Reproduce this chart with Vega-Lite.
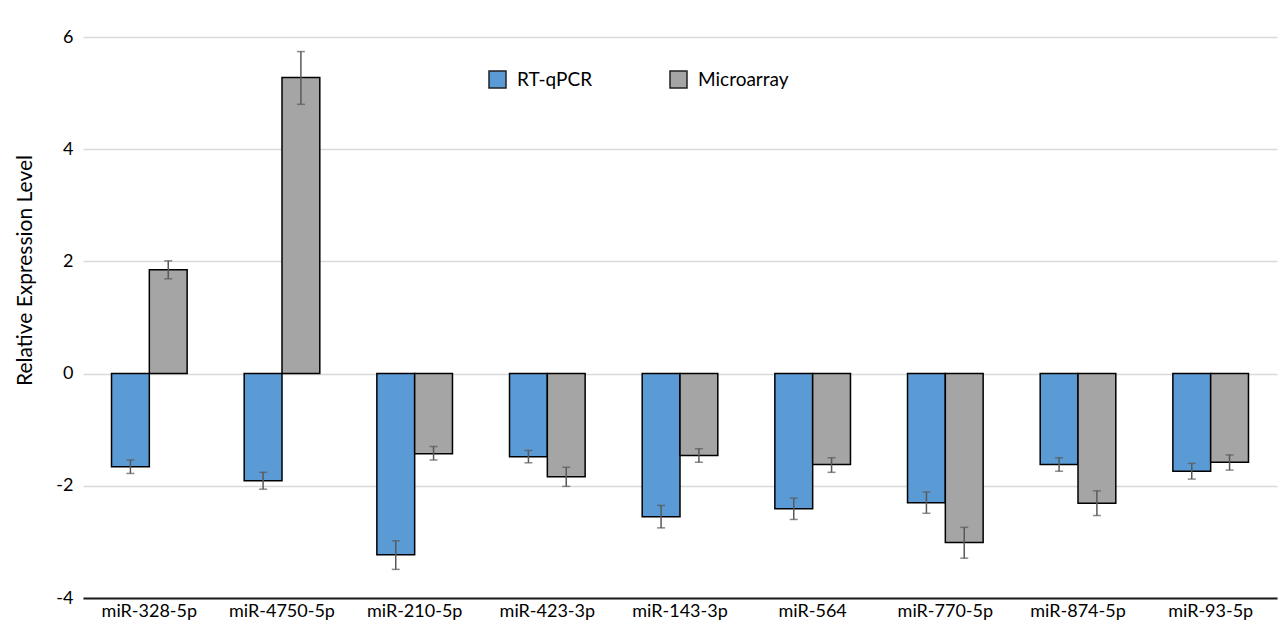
{
  "$schema": "https://vega.github.io/schema/vega-lite/v6.json",
  "width": 1194,
  "height": 561,
  "autosize": {"type": "none"},
  "padding": {"left": 83, "top": 37, "right": 5, "bottom": 30},
  "background": "white",
  "config": {
    "font": "Lato",
    "view": {"stroke": null}
  },
  "data": {
    "values": [
      {"mirna": "miR-328-5p", "method": "RT-qPCR", "value": -1.66, "lo": -1.78, "hi": -1.54},
      {"mirna": "miR-328-5p", "method": "Microarray", "value": 1.85, "lo": 1.69, "hi": 2.01},
      {"mirna": "miR-4750-5p", "method": "RT-qPCR", "value": -1.91, "lo": -2.06, "hi": -1.76},
      {"mirna": "miR-4750-5p", "method": "Microarray", "value": 5.28, "lo": 4.8, "hi": 5.74},
      {"mirna": "miR-210-5p", "method": "RT-qPCR", "value": -3.23, "lo": -3.49, "hi": -2.98},
      {"mirna": "miR-210-5p", "method": "Microarray", "value": -1.43, "lo": -1.54, "hi": -1.3},
      {"mirna": "miR-423-3p", "method": "RT-qPCR", "value": -1.48, "lo": -1.59, "hi": -1.37},
      {"mirna": "miR-423-3p", "method": "Microarray", "value": -1.84, "lo": -2.01, "hi": -1.67},
      {"mirna": "miR-143-3p", "method": "RT-qPCR", "value": -2.55, "lo": -2.75, "hi": -2.35},
      {"mirna": "miR-143-3p", "method": "Microarray", "value": -1.46, "lo": -1.58, "hi": -1.34},
      {"mirna": "miR-564", "method": "RT-qPCR", "value": -2.41, "lo": -2.6, "hi": -2.22},
      {"mirna": "miR-564", "method": "Microarray", "value": -1.62, "lo": -1.76, "hi": -1.5},
      {"mirna": "miR-770-5p", "method": "RT-qPCR", "value": -2.3, "lo": -2.49, "hi": -2.11},
      {"mirna": "miR-770-5p", "method": "Microarray", "value": -3.01, "lo": -3.29, "hi": -2.74},
      {"mirna": "miR-874-5p", "method": "RT-qPCR", "value": -1.62, "lo": -1.74, "hi": -1.5},
      {"mirna": "miR-874-5p", "method": "Microarray", "value": -2.31, "lo": -2.53, "hi": -2.09},
      {"mirna": "miR-93-5p", "method": "RT-qPCR", "value": -1.74, "lo": -1.88, "hi": -1.6},
      {"mirna": "miR-93-5p", "method": "Microarray", "value": -1.58, "lo": -1.72, "hi": -1.45}
    ]
  },
  "encoding": {
    "x": {
      "field": "mirna",
      "type": "nominal",
      "sort": null,
      "scale": {"paddingInner": 0.43, "paddingOuter": 0.215},
      "axis": {
        "title": null,
        "labelAngle": 0,
        "labelFontSize": 18,
        "labelColor": "#000000",
        "labelPadding": 4,
        "ticks": false,
        "domainColor": "#1a1a1a",
        "domainWidth": 2,
        "grid": false
      }
    },
    "xOffset": {
      "field": "method",
      "type": "nominal",
      "sort": ["RT-qPCR", "Microarray"],
      "scale": {"domain": ["RT-qPCR", "Microarray"], "paddingInner": 0, "paddingOuter": 0}
    }
  },
  "layer": [
    {
      "mark": {"type": "bar", "stroke": "#000000", "strokeWidth": 1.5},
      "encoding": {
        "y": {
          "field": "value",
          "type": "quantitative",
          "scale": {"domain": [-4, 6], "nice": false},
          "axis": {
            "title": "Relative Expression Level",
            "titleFontSize": 21,
            "titleFontWeight": "normal",
            "titleColor": "#000000",
            "titleX": -48,
            "titleY": 233,
            "values": [-4, -2, 0, 2, 4, 6],
            "labelExpr": "'' + datum.value",
            "labelFontSize": 18,
            "labelColor": "#000000",
            "labelPadding": 10,
            "domain": false,
            "ticks": false,
            "gridColor": "#d9d9d9",
            "gridWidth": 1.5
          }
        },
        "color": {
          "field": "method",
          "type": "nominal",
          "scale": {"domain": ["RT-qPCR", "Microarray"], "range": ["#5B9BD5", "#A5A5A5"]},
          "legend": {
            "title": null,
            "orient": "none",
            "legendX": 405,
            "legendY": 33,
            "direction": "horizontal",
            "symbolType": "square",
            "symbolSize": 289,
            "symbolStrokeColor": "#222222",
            "symbolStrokeWidth": 1.5,
            "labelFontSize": 19,
            "labelColor": "#000000",
            "labelOffset": 10,
            "columnPadding": 74
          }
        }
      }
    },
    {
      "mark": {"type": "rule", "color": "#595959", "strokeWidth": 1.5},
      "encoding": {
        "y": {"field": "lo", "type": "quantitative"},
        "y2": {"field": "hi"}
      }
    },
    {
      "mark": {"type": "tick", "color": "#595959", "thickness": 1.5, "size": 8},
      "encoding": {
        "y": {"field": "lo", "type": "quantitative"}
      }
    },
    {
      "mark": {"type": "tick", "color": "#595959", "thickness": 1.5, "size": 8},
      "encoding": {
        "y": {"field": "hi", "type": "quantitative"}
      }
    }
  ]
}
